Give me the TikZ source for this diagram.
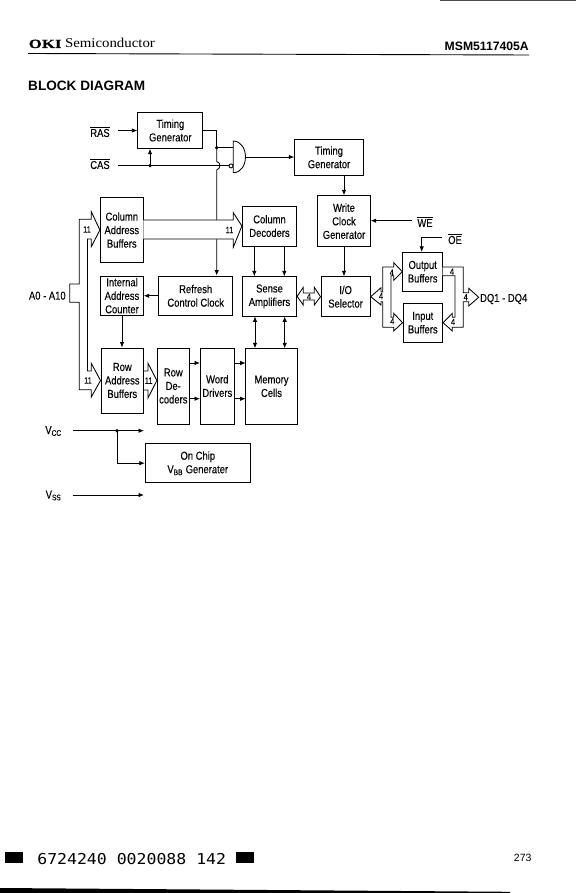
\documentclass[tikz,border=0pt]{standalone}
\usepackage{fontspec}
\setmainfont[FakeStretch=0.82,FakeBold=0.1]{Liberation Sans}
\newfontfamily\headfont{Liberation Sans}
\newfontfamily\okifont[FakeStretch=1.35,FakeBold=0.4]{Liberation Serif}
\newfontfamily\logofont[FakeStretch=1.1]{Liberation Serif}
\newfontfamily\codefont[FakeStretch=1.1]{DejaVu Sans Mono}
\usetikzlibrary{arrows.meta, calc}

\begin{document}
\begin{tikzpicture}[
  x=1pt, y=-1pt,
  blk/.style={draw, line width=0.85pt, align=center, inner sep=0pt,
    font=\fontsize{11.5}{13.5}\selectfont},
  lbl/.style={inner sep=0pt, font=\fontsize{11.5}{13.5}\selectfont},
  num/.style={inner sep=0pt, font=\fontsize{9}{10}\selectfont},
  sig/.style={line width=0.85pt, -{Latex[length=5.5pt,width=4.5pt]}},
  wire/.style={line width=0.85pt},
  dubl/.style={line width=0.85pt, {Latex[length=5.5pt,width=4.5pt]}-{Latex[length=5.5pt,width=4.5pt]}},
  bus/.style={draw, line width=0.85pt, fill=white},
  dot/.style={circle, fill, inner sep=0pt, minimum size=3.6pt}
]
  \useasboundingbox (0,0) rectangle (576,893);

  \node[anchor=base west, inner sep=0pt] (logo) at (28.5,48)
    {\okifont\fontsize{12.5}{13}\selectfont\bfseries OKI\hspace{3.5pt}\logofont\mdseries\fontsize{13.5}{13}\selectfont Semiconductor};
  \node[anchor=base east, inner sep=0pt, font=\headfont\fontsize{12.2}{13}\selectfont\bfseries] (part) at (529,50.5) {MSM5117405A};
  \node[anchor=base west, inner sep=0pt, font=\headfont\fontsize{13.6}{15}\selectfont\bfseries] (title) at (28,90.5) {BLOCK DIAGRAM};
  \draw[line width=0.9pt] (28,53.5) -- (529,55);
  \fill[black!70] (440,0) rectangle (576,1);

  \node[blk, minimum width=65pt, minimum height=35.6pt] (tga) at (170.3,130.5) {Timing\\Generator};
  \node[blk, minimum width=68.6pt, minimum height=35.3pt] (tgb) at (329,157.3) {Timing\\Generator};
  \node[blk, minimum width=52.6pt, minimum height=51pt] (wclk) at (344,221.2) {Write\\Clock\\Generator};
  \node[blk, minimum width=43pt, minimum height=64.6pt] (cab) at (121.8,230) {Column\\Address\\Buffers};
  \node[blk, minimum width=54.4pt, minimum height=40pt] (cdec) at (269.5,226) {Column\\Decoders};
  \node[blk, minimum width=42.6pt, minimum height=39.3pt] (iac) at (122,295.7) {Internal\\Address\\Counter};
  \node[blk, minimum width=74pt, minimum height=39.7pt] (rcc) at (195.7,295.8) {Refresh\\Control Clock};
  \node[blk, minimum width=54.4pt, minimum height=40pt] (samp) at (269.5,296.4) {Sense\\Amplifiers};
  \node[blk, minimum width=49.3pt, minimum height=40pt] (iosel) at (345.6,296.7) {I/O\\Selector};
  \node[blk, minimum width=40pt, minimum height=38.7pt] (obuf) at (422.7,271.7) {Output\\Buffers};
  \node[blk, minimum width=39.7pt, minimum height=39.3pt] (ibuf) at (422.8,322.7) {Input\\Buffers};
  \node[blk, minimum width=42.7pt, minimum height=65pt] (rab) at (122.3,380.5) {Row\\Address\\Buffers};
  \node[blk, minimum width=32pt, minimum height=76pt] (rdec) at (173.3,386) {Row\\De-\\coders};
  \node[blk, minimum width=34.7pt, minimum height=76pt] (wdrv) at (217.3,386) {Word\\Drivers};
  \node[blk, minimum width=51.6pt, minimum height=76pt] (mem) at (271.5,386.3) {Memory\\Cells};
  \node[blk, minimum width=105pt, minimum height=39pt] (vbb) at (197.8,463.2) {On Chip\\V\textsubscript{BB} Generater};

  \node[lbl] (ras) at (100,132) {$\overline{\mbox{RAS}}$};
  \node[lbl] (cas) at (100,164) {$\overline{\mbox{CAS}}$};
  \node[lbl] (we) at (425,222) {$\overline{\mbox{WE}}$};
  \node[lbl] (oe) at (455,239) {$\overline{\mbox{OE}}$};
  \node[lbl] (addr) at (47.3,295.7) {A0 - A10};
  \node[lbl] (dq) at (503.7,299) {DQ1 - DQ4};
  \node[lbl] (vcc) at (53.5,431) {V\textsubscript{CC}};
  \node[lbl] (vss) at (53.5,495.5) {V\textsubscript{SS}};

  \coordinate (rasout) at (118,130.5);
  \coordinate (casout) at (118,165.7);
  \coordinate (casdot) at (150,165.7);
  \coordinate (gatedot) at (216.7,147.7);
  \coordinate (gatein) at (233.3,147.7);
  \coordinate (gatebub) at (229.2,165.7);
  \coordinate (gateout) at (245.6,157);
  \coordinate (weout) at (411.7,220.7);
  \coordinate (oeout) at (441.7,237.7);
  \coordinate (vccout) at (72.7,430.7);
  \coordinate (vccend) at (144,430.7);
  \coordinate (vccdot) at (117,430.7);
  \coordinate (vssout) at (72.7,495);
  \coordinate (vssend) at (144,495);

  \draw[sig] (rasout) -- (tga.west |- rasout);
  \draw[wire] (casout) -- (gatebub);
  \draw[sig] (casdot) -- (casdot |- tga.south);
  \node[dot] (casnode) at (casdot) {};
  \draw[wire] (tga.east) -| (gatedot) -- (gatein);
  \node[dot] (gatenode) at (gatedot) {};
  \draw[sig] (gatedot) -- (216.7,161.5) .. controls (221,162.5) and (221,168.5) .. (216.7,170)
    -- (gatedot |- rcc.north);
  \draw[wire, fill=white] (233.3,141) .. controls (249.5,141.5) and (249.5,172.5) .. (233.3,172.7) -- cycle;
  \draw[wire, fill=white] (231,165.9) circle (2pt);
  \draw[sig] (gateout) -- (tgb.west |- gateout);
  \draw[sig] (tgb.south -| wclk) -- (wclk.north);
  \draw[sig] (wclk.south) -- (wclk.south |- iosel.north);
  \draw[sig] (weout) -- (wclk.east |- weout);
  \draw[sig] (oeout) -| ([xshift=-1pt]obuf.north);

  \draw[sig] (254.3,246) -- (254.3,276.4);
  \draw[sig] (284.3,246) -- (284.3,276.4);
  \draw[dubl] (255,316.4) -- (255,348.3);
  \draw[dubl] (284.7,316.4) -- (284.7,348.3);
  \draw[sig] (rcc.west) -- (iac.east |- rcc);
  \draw[sig] (iac.south) -- (iac.south |- rab.north);
  \draw[sig] (189.3,363) -- (200,363);
  \draw[sig] (189.3,398.7) -- (200,398.7);
  \draw[sig] (234.7,363) -- (245.7,363);
  \draw[sig] (234.7,398.7) -- (245.7,398.7);

  \draw[sig] (vccout) -- (vccend);
  \node[dot] (vccnode) at (vccdot) {};
  \draw[sig] (vccdot) |- (vbb.west);
  \draw[sig] (vssout) -- (vssend);

  \draw[bus] (69.7,284) -- (79.3,284) -- (79.3,219.3) -- (91.3,219.3) -- (91.3,211.7)
    -- (cab.west) -- (91.3,246.7) -- (91.3,239) -- (87.5,239) -- (87.5,371) -- (91.3,371)
    -- (91.3,363.3) -- (rab.west) -- (91.3,397) -- (91.3,389.7) -- (79.3,389.7)
    -- (79.3,302.3) -- (69.7,302.3) -- cycle;
  \draw[bus] (143.3,220) -- (233.3,220) -- (233.3,212.7) -- (cdec.west) -- (233.3,247.3)
    -- (233.3,239) -- (143.3,239);
  \draw[bus] (rab.east |- 0,371) -- (148,371) -- (148,363.3) -- (rdec.west |- rab.east)
    -- (148,398) -- (148,390) -- (rab.east |- 0,390);
  \draw[bus] (samp.east) -- (303.3,287.3) -- (303.3,293) -- (314.3,293) -- (314.3,287.3)
    -- (iosel.west) -- (314.3,305) -- (314.3,300) -- (303.3,300) -- (303.3,305) -- cycle;
  \draw[bus] (iosel.east) -- (381,287.7) -- (381,292) -- (382.7,292) -- (382.7,267) -- (393.7,267)
    -- (393.7,262.7) -- (obuf.west) -- (393.7,280.3) -- (393.7,275.7) -- (391,275.7)
    -- (391,317.3) -- (393.7,317.3) -- (393.7,313.3) -- (ibuf.west) -- (393.7,331)
    -- (393.7,327.3) -- (382.7,327.3) -- (382.7,301.7) -- (381,301.7) -- (381,305) -- cycle;
  \draw[bus] (442.7,267) -- (463.3,267) -- (463.3,292.7) -- (468.7,292.7) -- (468.7,288.3)
    -- (478.7,297.3) -- (468.7,306) -- (468.7,301.7) -- (463.3,301.7) -- (463.3,327.3)
    -- (452.3,327.3) -- (452.3,331) -- (ibuf.east) -- (452.3,313.3) -- (452.3,317.3)
    -- (455,317.3) -- (455,275.7) -- (442.7,275.7);

  \node[num] (na) at (87,229.5) {11};
  \node[num] (nb) at (229.5,230) {11};
  \node[num] (nc) at (88,380.5) {11};
  \node[num] (nd) at (148.7,380.7) {11};
  \node[num] (ne) at (309,296.7) {4};
  \node[num] (nf) at (381,296.2) {4};
  \node[num] (ng) at (391.7,272.7) {4};
  \node[num] (nh) at (392.3,321.3) {4};
  \node[num] (ni) at (452,271.7) {4};
  \node[num] (nj) at (453,322) {4};
  \node[num] (nk) at (465.7,297.3) {4};

  \fill (5,852) rectangle (23,862.7);
  \fill (236,852) rectangle (254,862.7);
  \node[inner sep=0pt, font=\codefont\fontsize{15}{17}\selectfont] (code) at (131.7,859) {6724240 0020088 142};
  \node[inner sep=0pt, font=\headfont\fontsize{10.5}{13}\selectfont] (page) at (522.7,858) {273};
  \fill (0,888) -- (510,891.8) -- (510,893) -- (0,893) -- cycle;
\end{tikzpicture}
\end{document}
